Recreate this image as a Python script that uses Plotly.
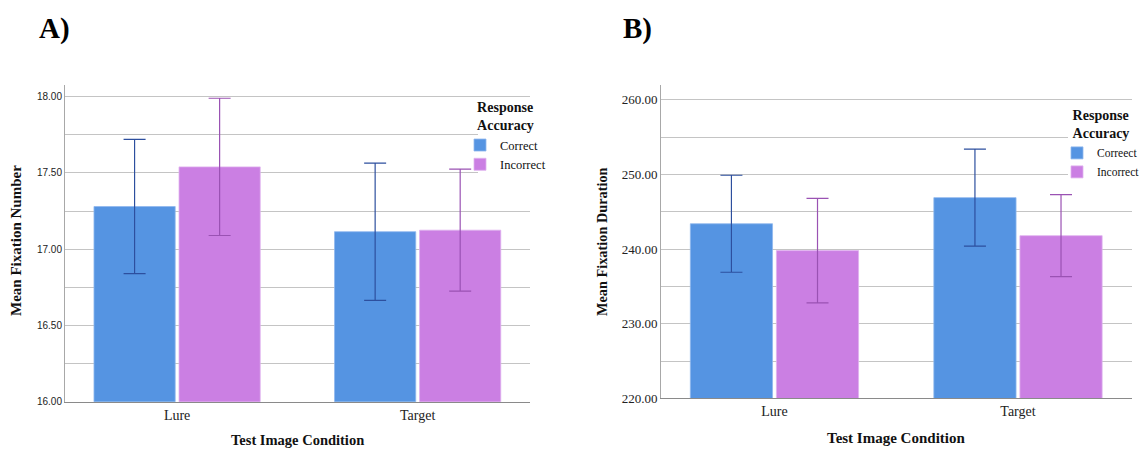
import plotly.graph_objects as go

# ---------------- data ----------------
categories = ["Lure", "Target"]

# Panel A: Mean Fixation Number
num_correct = [17.28, 17.115]
num_correct_err = [0.44, 0.45]
num_incorrect = [17.54, 17.125]
num_incorrect_err = [0.45, 0.40]

# Panel B: Mean Fixation Duration
dur_correct = [243.4, 246.9]
dur_correct_err = [6.5, 6.5]
dur_incorrect = [239.8, 241.8]
dur_incorrect_err = [7.0, 5.5]

legend_a_names = ["Correct", "Incorrect"]
legend_b_names = ["Correect", "Incorrect"]

# ---------------- style ----------------
W, H = 1148, 449
BLUE = "#5594e2"
PURPLE = "#cb7fe3"
BLUE_ERR = "#2d4f9e"
PURPLE_ERR = "#9a52b3"
GRID = "#c4c4c4"
SERIF = "Liberation Serif, Times New Roman, serif"
SANS = "Liberation Sans, Arial, sans-serif"


def px_x(x):
    return x / W


def px_y(y):
    return 1 - y / H


fig = go.Figure()


def add_bars(xaxis, yaxis, legend, names, vals_c, err_c, vals_i, err_i):
    fig.add_trace(go.Bar(
        x=categories, y=vals_c, name=names[0], xaxis=xaxis, yaxis=yaxis,
        legend=legend, offsetgroup="c",
        marker=dict(color=BLUE, line=dict(color="#8fb8ee", width=0.8)),
        error_y=dict(type="data", array=err_c, color=BLUE_ERR, thickness=1.2, width=11),
    ))
    fig.add_trace(go.Bar(
        x=categories, y=vals_i, name=names[1], xaxis=xaxis, yaxis=yaxis,
        legend=legend, offsetgroup="i",
        marker=dict(color=PURPLE, line=dict(color="#e0b3ef", width=0.8)),
        error_y=dict(type="data", array=err_i, color=PURPLE_ERR, thickness=1.2, width=11),
    ))


add_bars("x", "y", "legend", legend_a_names, num_correct, num_correct_err,
         num_incorrect, num_incorrect_err)
add_bars("x2", "y2", "legend2", legend_b_names, dur_correct, dur_correct_err,
         dur_incorrect, dur_incorrect_err)

xaxis_common = dict(
    type="category", range=[-0.466, 1.467], showgrid=False, showline=True,
    linecolor="#8a8a8a", linewidth=1.2, ticks="", fixedrange=True,
    automargin=False,
    tickfont=dict(family=SERIF, size=14, color="#222"),
)


def legend_style(x, y, item_size):
    return dict(
        x=x, y=y, xanchor="left", yanchor="top",
        bgcolor="rgba(255,255,255,0)", borderwidth=0,
        title=dict(text="<b>Response<br>Accuracy</b>", side="top center",
                   font=dict(family=SERIF, size=14, color="#111")),
        font=dict(family=SERIF, size=item_size, color="#111"),
        itemwidth=30, tracegroupgap=0,
    )


fig.update_layout(
    template="none",
    width=W, height=H,
    margin=dict(l=0, r=0, t=0, b=0, autoexpand=False),
    paper_bgcolor="white", plot_bgcolor="white",
    barmode="group", bargap=0.293, bargroupgap=0.045,
    xaxis=dict(domain=[px_x(65), px_x(530)], anchor="y", **xaxis_common),
    xaxis2=dict(domain=[px_x(661), px_x(1131.7)], anchor="y2", **xaxis_common),
    yaxis=dict(
        domain=[px_y(401.7), px_y(85)], anchor="x", range=[16, 18.077],
        tick0=16, dtick=0.5, tickformat=".2f", showgrid=True, gridcolor=GRID,
        gridwidth=1, showline=True, linecolor="#a8a8a8", linewidth=1,
        ticks="", zeroline=False, automargin=False,
        minor=dict(dtick=0.25, tick0=16, showgrid=True, gridcolor=GRID, gridwidth=1),
        tickfont=dict(family=SANS, size=10, color="#222"),
    ),
    yaxis2=dict(
        domain=[px_y(398.3), px_y(85)], anchor="x2", range=[220, 262.0],
        tick0=220, dtick=10, tickformat=".2f", showgrid=True, gridcolor=GRID,
        gridwidth=1, showline=True, linecolor="#a8a8a8", linewidth=1,
        ticks="", zeroline=False, automargin=False,
        minor=dict(dtick=5, tick0=220, showgrid=True, gridcolor=GRID, gridwidth=1),
        tickfont=dict(family=SERIF, size=13, color="#222"),
    ),
    legend=legend_style(px_x(460), px_y(94), 12.5),
    legend2=legend_style(px_x(1057), px_y(102), 11.5),
    showlegend=True,
    shapes=[
        # white backdrop behind each legend (hides the grid lines there)
        dict(type="rect", xref="paper", yref="paper", layer="above",
             x0=px_x(478), x1=px_x(548), y0=px_y(173), y1=px_y(100),
             fillcolor="white", line=dict(width=0)),
        dict(type="rect", xref="paper", yref="paper", layer="above",
             x0=px_x(1068), x1=px_x(1148), y0=px_y(182), y1=px_y(110),
             fillcolor="white", line=dict(width=0)),
    ],
)

annotations = [
    dict(text="<b>A)</b>", x=px_x(37), y=px_y(28), xanchor="left", yanchor="middle",
         font=dict(family=SERIF, size=29, color="#000")),
    dict(text="<b>B)</b>", x=px_x(621), y=px_y(28), xanchor="left", yanchor="middle",
         font=dict(family=SERIF, size=29, color="#000")),
    dict(text="<b>Mean Fixation Number</b>", x=px_x(16), y=px_y(241), textangle=-90,
         xanchor="center", yanchor="middle", font=dict(family=SERIF, size=15, color="#111")),
    dict(text="<b>Mean Fixation Duration</b>", x=px_x(602), y=px_y(242), textangle=-90,
         xanchor="center", yanchor="middle", font=dict(family=SERIF, size=14.3, color="#111")),
    dict(text="<b>Test Image Condition</b>", x=px_x(297), y=px_y(440),
         xanchor="center", yanchor="middle", font=dict(family=SERIF, size=14.5, color="#111")),
    dict(text="<b>Test Image Condition</b>", x=px_x(896), y=px_y(438),
         xanchor="center", yanchor="middle", font=dict(family=SERIF, size=15, color="#111")),
]
for a in annotations:
    a.update(xref="paper", yref="paper", showarrow=False)
fig.update_layout(annotations=annotations)

fig.write_html("out.html")
